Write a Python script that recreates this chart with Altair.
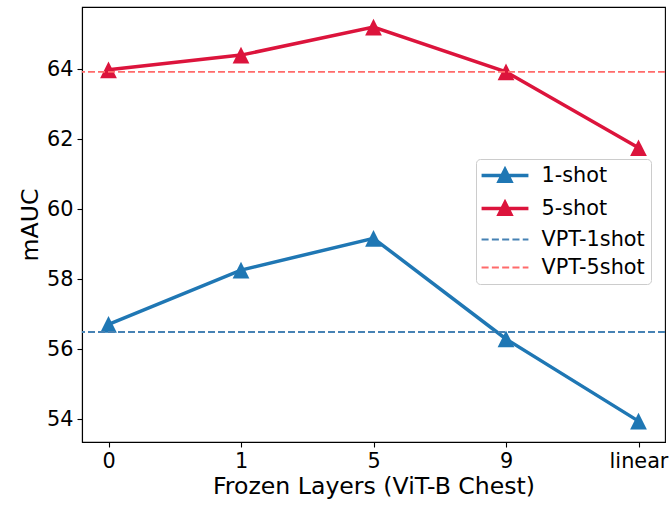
import altair as alt
import pandas as pd

# ---- data ----
frozen = ["0", "1", "5", "9", "linear"]
one_shot = [56.71, 58.26, 59.17, 56.29, 53.94]
five_shot = [63.99, 64.41, 65.21, 63.93, 61.76]
vpt_names = ["VPT-1shot", "VPT-5shot"]
vpt_values = [56.49, 63.93]
series_names = ["1-shot", "5-shot", "VPT-1shot", "VPT-5shot"]
series_colors = ["#1f77b4", "#dc143c", "#4682b4", "#ff6b6b"]
y_ticks = [54, 56, 58, 60, 62, 64]

rows = []
for f, v in zip(frozen, one_shot):
    rows.append({"frozen": f, "mauc": v, "series": "1-shot"})
for f, v in zip(frozen, five_shot):
    rows.append({"frozen": f, "mauc": v, "series": "5-shot"})
df = pd.DataFrame(rows)
vpt = pd.DataFrame({"series": vpt_names, "mauc": vpt_values})

FONT = "DejaVu Sans"
# colour scale for the drawn marks (domain listed in another order so that its
# disabled legend is not merged with the legend built below)
color_scale = alt.Scale(domain=series_names[::-1], range=series_colors[::-1])
x_enc = alt.X(
    "frozen:O",
    scale=alt.Scale(type="point", domain=frozen, padding=0.2),
    axis=alt.Axis(title="Frozen Layers (ViT-B Chest)", labelAngle=0),
)
y_enc = alt.Y(
    "mauc:Q",
    scale=alt.Scale(domain=[53.343, 65.786], nice=False, zero=False),
    axis=alt.Axis(title="mAUC", values=y_ticks),
)

# marker / legend symbol shapes
tri = "M0,-1L1,1L-1,1Z"
legend_solid = "M-2.8,0L2.8,0M0,-0.7L0.7,0.7L-0.7,0.7Z"


def dash_rect(x0, x1, h=0.11):
    return f"M{x0},{-h}L{x1},{-h}L{x1},{h}L{x0},{h}Z"


legend_dash = "".join(
    dash_rect(a, b)
    for a, b in [(-2.8, -1.96), (-1.57, -0.73), (-0.34, 0.5), (0.89, 1.73), (2.12, 2.8)]
)

leg = alt.Legend(title=None, orient="none", legendX=394, legendY=152)

# legend-only layer: its rows are filtered away, only the legend remains
legend_layer = (
    alt.Chart(df)
    .transform_filter("datum.mauc < 0")
    .mark_point(filled=True)
    .encode(
        x=x_enc,
        y=y_enc,
        fill=alt.Fill("series:N", scale=alt.Scale(domain=series_names, range=series_colors), legend=leg),
        stroke=alt.Stroke(
            "series:N",
            scale=alt.Scale(domain=series_names, range=[series_colors[0], series_colors[1], "transparent", "transparent"]),
            legend=leg,
        ),
        shape=alt.Shape(
            "series:N",
            scale=alt.Scale(domain=series_names, range=[legend_solid, legend_solid, legend_dash, legend_dash]),
            legend=leg,
        ),
    )
)

lines = alt.Chart(df).mark_line(strokeWidth=3.5).encode(
    x=x_enc,
    y=y_enc,
    color=alt.Color("series:N", scale=color_scale, legend=None),
)

points = alt.Chart(df).mark_point(filled=True, shape=tri, size=280, opacity=1).encode(
    x=x_enc,
    y=y_enc,
    color=alt.Color("series:N", scale=color_scale, legend=None),
)

rules = alt.Chart(vpt).mark_rule(strokeWidth=1.8, strokeDash=[7, 3]).encode(
    y=alt.Y("mauc:Q"),
    color=alt.Color("series:N", scale=color_scale, legend=None),
)

chart = (
    alt.layer(lines, points, rules, legend_layer)
    .properties(
        width=583,
        height=435,
        padding={"left": 82, "top": 7, "right": 5, "bottom": 64},
        autosize=alt.AutoSizeParams(type="none"),
        background="white",
    )
    .configure_view(stroke="black", strokeWidth=1.1)
    .configure_axis(
        domainColor="black",
        domainWidth=1.1,
        tickColor="black",
        tickWidth=1.1,
        tickSize=5,
        labelFont=FONT,
        labelFontSize=20.8,
        labelColor="black",
        labelPadding=4,
        titleFont=FONT,
        titleFontSize=23.6,
        titleFontWeight="normal",
        titleColor="black",
        grid=False,
    )
    .configure_legend(
        labelFont=FONT,
        labelFontSize=20.8,
        labelColor="black",
        symbolSize=280,
        symbolStrokeWidth=3.5,
        symbolOpacity=1,
        padding=6,
        rowPadding=6,
        strokeColor="#cccccc",
        fillColor="white",
        cornerRadius=4,
        symbolOffset=12.5,
        labelOffset=26,
    )
)

chart.save("out.html", embed_options={"renderer": "svg", "actions": False})
